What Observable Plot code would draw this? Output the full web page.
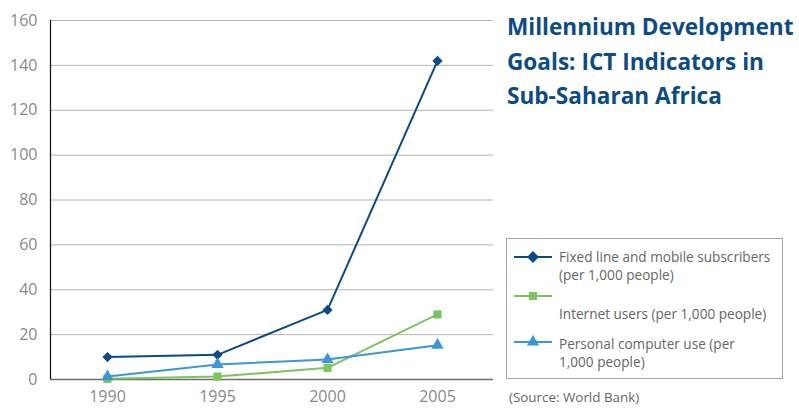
<!DOCTYPE html>
<html>
<head>
<meta charset="utf-8">
<script src="https://cdn.jsdelivr.net/npm/d3@7"></script>
<script src="https://cdn.jsdelivr.net/npm/@observablehq/plot@0.6"></script>
<style>
  html, body { margin: 0; padding: 0; background: #fff; }
  #wrap { position: relative; width: 799px; height: 410px; overflow: hidden; font-family: "Open Sans", "Noto Sans", sans-serif; }
  #title { position: absolute; left: 507px; top: 10px; font-size: 22.6px; font-weight: 700; color: #0d4b84; line-height: 34.5px; white-space: nowrap; }
  #legend { position: absolute; left: 506px; top: 238px; width: 277px; height: 141px; border: 1px solid #a6a6a6; box-sizing: border-box; }
  .item { position: absolute; left: 7px; font-size: 13.6px; color: #666; line-height: 18px; }
  .item svg { position: absolute; left: 0; }
  .item span { position: absolute; left: 45px; white-space: nowrap; }
  #source { position: absolute; left: 509px; top: 388px; font-size: 13.4px; color: #666; }
</style>
</head>
<body>
<div id="wrap">
  <div id="chart"></div>
  <div id="title">Millennium Development<br>Goals: ICT Indicators in<br>Sub-Saharan Africa</div>
  <div id="legend"></div>
  <div id="source">(Source: World Bank)</div>
</div>
<script>
const years = [1990, 1995, 2000, 2005];
const seriesNames = [
  "Fixed line and mobile subscribers (per 1,000 people)",
  "Internet users (per 1,000 people)",
  "Personal computer use (per 1,000 people)"
];
const fixedMobile = [10, 11, 31, 142];
const internetUsers = [0.3, 1.3, 5.2, 29];
const pcUse = [1.3, 6.7, 8.9, 15.3];
const yTicks = [0, 20, 40, 60, 80, 100, 120, 140, 160];
const colors = ["#0d4b84", "#7cc45e", "#3d96d6"];
const legendLines = [
  ["Fixed line and mobile subscribers", "(per 1,000 people)"],
  ["Internet users (per 1,000 people)"],
  ["Personal computer use (per", "1,000 people)"]
];
const symbols = [d3.symbolDiamond2, d3.symbolSquare, d3.symbolTriangle];

const allValues = [fixedMobile, internetUsers, pcUse];
const data = [];
allValues.forEach((vals, si) => vals.forEach((v, i) => data.push({year: years[i], value: v, series: seriesNames[si]})));

const plot = Plot.plot({
  width: 799,
  height: 410,
  marginLeft: 50,
  marginRight: 306,
  marginTop: 20,
  marginBottom: 31,
  style: { fontFamily: "'Open Sans', 'Noto Sans', sans-serif", background: "transparent" },
  x: { type: "point", domain: years, padding: 0.5 },
  y: { domain: [0, 160], ticks: yTicks },
  color: { domain: seriesNames, range: colors },
  symbol: { domain: seriesNames, range: symbols },
  marks: [
    Plot.gridY(yTicks, { stroke: "#b4b4b4", strokeOpacity: 1, strokeWidth: 1 }),
    Plot.axisY(yTicks, { tickSize: 0, tickPadding: 13, fontSize: 16, fill: "#8a8a8a", label: null }),
    Plot.axisX(years, { tickSize: 0, tickPadding: 11, fontSize: 16, fill: "#8a8a8a", label: null, tickFormat: d => String(d) }),
    Plot.ruleY([0], { stroke: "#6e6e6e", strokeWidth: 1.5 }),
    Plot.lineY(data, { x: "year", y: "value", z: "series", stroke: "series", strokeWidth: 2 }),
    Plot.dot(data, { x: "year", y: "value", symbol: "series", fill: "series", stroke: "none", r: 4.6 })
  ]
});
document.getElementById("chart").appendChild(plot);

// y-axis line at left edge
const svg = d3.select(plot);
const yScale = plot.scale("y");
svg.append("line")
  .attr("x1", 50.5).attr("x2", 50.5)
  .attr("y1", yScale.apply(160)).attr("y2", yScale.apply(0))
  .attr("stroke", "#111").attr("stroke-width", 1.2);

// legend
const legend = document.getElementById("legend");
const itemTops = [9, 50, 96];
const markerOffsets = [9, 8, 7];
seriesNames.forEach((name, i) => {
  const item = document.createElement("div");
  item.className = "item";
  item.style.top = itemTops[i] + "px";
  const my = markerOffsets[i];
  const sym = d3.symbol().type(symbols[i]).size(i === 0 ? 90 : 64)();
  item.innerHTML = `<svg width="40" height="20" style="top:${my - 10 + (i === 1 ? -1 : 0)}px"><line x1="0" x2="38" y1="10" y2="10" stroke="${colors[i]}" stroke-width="2"/><path d="${sym}" transform="translate(19,10)" fill="${colors[i]}"/></svg>` +
    `<span style="top:${i === 1 ? 16 : 0}px">${legendLines[i].join("<br>")}</span>`;
  legend.appendChild(item);
});
</script>
</body>
</html>
